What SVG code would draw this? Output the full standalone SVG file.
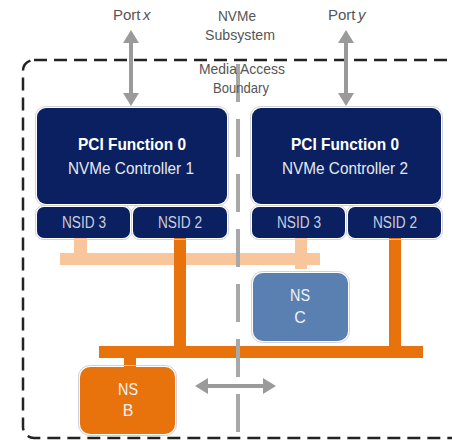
<svg xmlns="http://www.w3.org/2000/svg" width="452" height="440" viewBox="0 0 452 440">
  <style>
    .lbl { font-family: "Liberation Sans", Arial, sans-serif; font-size: 15px; fill: #555; text-anchor: middle; }
    .lbl-s { font-family: "Liberation Sans", Arial, sans-serif; font-size: 15px; fill: #555; }
    .ctl { fill: #0b2060; }
    .edge { fill: none; stroke: #cfd2d8; stroke-width: 1; }
    .t-bold { font-family: "Liberation Sans", Arial, sans-serif; font-size: 17px; font-weight: bold; fill: #ffffff; text-anchor: middle; }
    .t-reg { font-family: "Liberation Sans", Arial, sans-serif; font-size: 17px; fill: #e6e9f0; text-anchor: middle; }
    .t-nsid { font-family: "Liberation Sans", Arial, sans-serif; font-size: 16px; fill: #c8cede; text-anchor: middle; }
    .t-ns { font-family: "Liberation Sans", Arial, sans-serif; font-size: 16px; fill: #f2f2f2; text-anchor: middle; }
    .peach { fill: #f9c59b; }
    .orange { fill: #e8720c; }
    .garrow { stroke: #9a9a9a; stroke-width: 4; fill: none; }
  </style>
  <defs>
    <marker id="head" markerUnits="userSpaceOnUse" markerWidth="14" markerHeight="16" refX="0" refY="8" orient="auto-start-reverse" viewBox="0 0 14 16">
      <path d="M0,0 L13,8 L0,16 z" fill="#9a9a9a"/>
    </marker>
  </defs>

  <!-- subsystem outline -->
  <rect id="subsystem" x="23" y="60" width="450" height="378" rx="11" fill="none" stroke="#222" stroke-width="2.5" stroke-dasharray="13 7"/>

  <g id="connectors">
    <!-- shared namespace path (NSID 3) -->
    <rect class="peach" x="60" y="253" width="260" height="12"/>
    <rect class="peach" x="74" y="238" width="13" height="16"/>
    <rect class="peach" x="295" y="238" width="12" height="31"/>
    <!-- shared namespace path (NSID 2) -->
    <rect class="orange" x="174" y="238" width="12" height="114"/>
    <rect class="orange" x="389" y="238" width="12" height="114"/>
    <rect class="orange" x="99" y="346" width="324" height="12"/>
    <rect class="orange" x="124" y="357" width="12" height="11"/>
    <!-- ports -->
    <line class="garrow" x1="131" y1="43" x2="131" y2="93" marker-start="url(#head)" marker-end="url(#head)"/>
    <line class="garrow" x1="346" y1="43" x2="346" y2="93" marker-start="url(#head)" marker-end="url(#head)"/>
    <!-- media access -->
    <line class="garrow" x1="208" y1="386" x2="263" y2="386" marker-start="url(#head)" marker-end="url(#head)"/>
  </g>

  <g id="controller1">
    <rect class="edge" x="35.5" y="106.5" width="193" height="99" rx="10"/>
    <rect class="ctl" x="37" y="108" width="190" height="96" rx="9"/>
    <text class="t-bold" x="132" y="150" textLength="108" lengthAdjust="spacingAndGlyphs">PCI Function 0</text>
    <text class="t-reg" x="131" y="174" textLength="126" lengthAdjust="spacingAndGlyphs">NVMe Controller 1</text>
  </g>
  <g id="c1-nsid3">
    <rect class="edge" x="35.5" y="205.5" width="96" height="34" rx="8"/>
    <rect class="ctl" x="37" y="207" width="93" height="31" rx="7"/>
    <text class="t-nsid" x="84" y="228" textLength="44" lengthAdjust="spacingAndGlyphs">NSID 3</text>
  </g>
  <g id="c1-nsid2">
    <rect class="edge" x="131.5" y="205.5" width="97" height="34" rx="8"/>
    <rect class="ctl" x="133" y="207" width="94" height="31" rx="7"/>
    <text class="t-nsid" x="180" y="228" textLength="44" lengthAdjust="spacingAndGlyphs">NSID 2</text>
  </g>

  <g id="controller2">
    <rect class="edge" x="250.5" y="106.5" width="192" height="99" rx="10"/>
    <rect class="ctl" x="252" y="108" width="189" height="96" rx="9"/>
    <text class="t-bold" x="345" y="150" textLength="108" lengthAdjust="spacingAndGlyphs">PCI Function 0</text>
    <text class="t-reg" x="345" y="174" textLength="126" lengthAdjust="spacingAndGlyphs">NVMe Controller 2</text>
  </g>
  <g id="c2-nsid3">
    <rect class="edge" x="250.5" y="205.5" width="96" height="34" rx="8"/>
    <rect class="ctl" x="252" y="207" width="93" height="31" rx="7"/>
    <text class="t-nsid" x="299" y="228" textLength="44" lengthAdjust="spacingAndGlyphs">NSID 3</text>
  </g>
  <g id="c2-nsid2">
    <rect class="edge" x="346.5" y="205.5" width="96" height="34" rx="8"/>
    <rect class="ctl" x="348" y="207" width="93" height="31" rx="7"/>
    <text class="t-nsid" x="395" y="228" textLength="44" lengthAdjust="spacingAndGlyphs">NSID 2</text>
  </g>

  <g id="ns-c">
    <rect class="edge" x="251.5" y="271.5" width="98" height="71" rx="11"/>
    <rect x="253" y="273" width="95" height="68" rx="10" fill="#5a80b2"/>
    <text class="t-ns" x="300" y="301" textLength="20" lengthAdjust="spacingAndGlyphs">NS</text>
    <text class="t-ns" x="300" y="323">C</text>
  </g>

  <g id="ns-b">
    <rect class="edge" x="78.5" y="365.5" width="98" height="70" rx="11"/>
    <rect x="80" y="367" width="95" height="67" rx="10" fill="#e8720c"/>
    <text class="t-ns" x="128" y="395" textLength="20" lengthAdjust="spacingAndGlyphs">NS</text>
    <text class="t-ns" x="128" y="416">B</text>
  </g>

  <!-- media access boundary -->
  <line id="boundary" x1="238" y1="64" x2="238" y2="440" stroke="#a8a8a8" stroke-width="4" stroke-dasharray="38 17"/>

  <g id="labels">
    <text class="lbl-s" x="113" y="20">Port</text>
    <text class="lbl-s" x="143" y="20" font-style="italic">x</text>
    <text class="lbl-s" x="328" y="20">Port</text>
    <text class="lbl-s" x="358" y="20" font-style="italic">y</text>
    <text class="lbl" x="237" y="21" textLength="38" lengthAdjust="spacingAndGlyphs">NVMe</text>
    <text class="lbl" x="240" y="40" textLength="70" lengthAdjust="spacingAndGlyphs">Subsystem</text>
    <text class="lbl" x="242" y="74" textLength="86" lengthAdjust="spacingAndGlyphs">Media Access</text>
    <text class="lbl" x="241" y="93" textLength="56" lengthAdjust="spacingAndGlyphs">Boundary</text>
  </g>
</svg>
